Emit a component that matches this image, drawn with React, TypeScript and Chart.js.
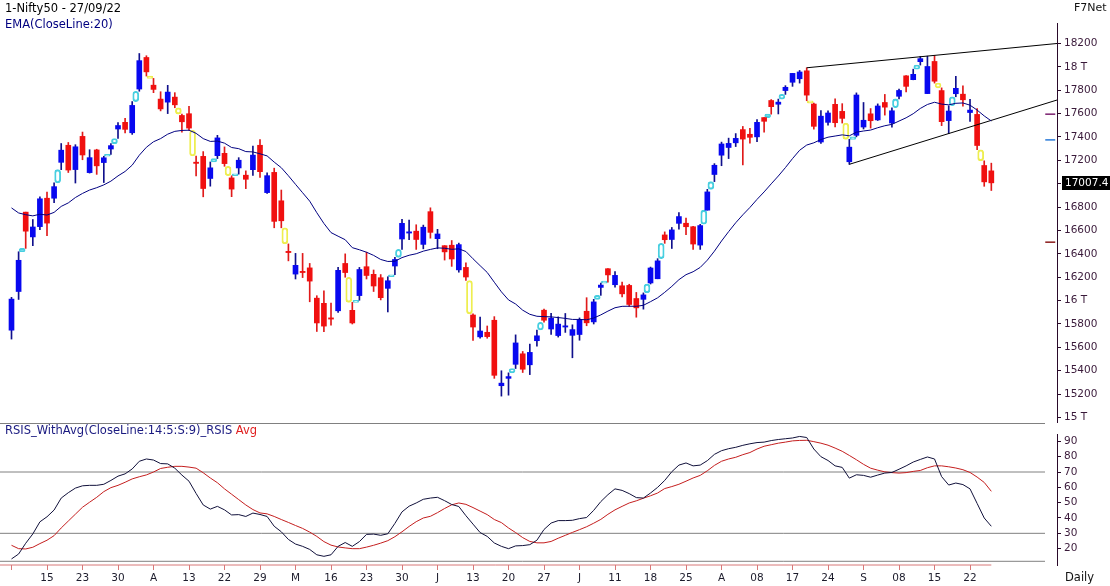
import React, { useEffect, useRef } from "react";
import { Chart, registerables } from "chart.js";

Chart.register(...registerables);

// ---------- DATA (Nifty50 daily, 08 Mar 2022 .. 27 Sep 2022) ----------
const opens = [
  15747, 16078, 16757, 16545, 16633, 16876, 16876, 17183, 17329, 17121,
  17405, 17095, 17289, 17181, 17297, 17468, 17525, 17436, 17810, 18080,
  17843, 17724, 17698, 17741, 17584, 17599, 17183, 17234, 17045, 17240,
  17260, 17050, 17135, 17073, 17120, 17329, 16924, 17097, 16854, 16415,
  16227, 16248, 16280, 16021, 15977, 15846, 15913, 16318, 15917, 16043,
  16290, 16225, 16196, 16105, 16296, 16527, 16578, 16594, 16481, 16761,
  16530, 16470, 16474, 16263, 16284, 15877, 15690, 15729, 15832, 15272,
  15335, 15455, 15545, 15451, 15657, 15918, 15757, 15701, 15774, 15703,
  15710, 15909, 15818, 16113, 16273, 16136, 16127, 16130, 16018, 16011,
  16151, 16187, 16562, 16523, 16661, 16662, 16632, 16475, 16774, 17079,
  17244, 17310, 17350, 17463, 17423, 17401, 17566, 17712, 17680, 17797,
  17868, 17898, 17966, 17682, 17357, 17525, 17679, 17619, 17188, 17414,
  17485, 17598, 17546, 17695, 17519, 17748, 17923, 17890, 18044, 17771,
  18046, 17797, 17540, 17770, 17766, 17609, 17593, 17156, 17110,
];
const highs = [
  16028, 16418, 16757, 16694, 16887, 16928, 17007, 17344, 17353, 17334,
  17442, 17291, 17295, 17235, 17343, 17523, 17559, 17703, 18114, 18095,
  17901, 17787, 17842, 17779, 17596, 17663, 17237, 17275, 17186, 17414,
  17315, 17068, 17223, 17110, 17322, 17377, 17093, 17133, 16946, 16485,
  16404, 16404, 16318, 16042, 16084, 15978, 16284, 16400, 15985, 16284,
  16414, 16262, 16223, 16204, 16370, 16695, 16690, 16649, 16646, 16794,
  16610, 16470, 16514, 16492, 16324, 15886, 15859, 15783, 15863, 15400,
  15382, 15707, 15565, 15628, 15749, 15927, 15892, 15861, 15890, 15793,
  15852, 16025, 16011, 16150, 16275, 16248, 16158, 16140, 16070, 16066,
  16287, 16359, 16588, 16626, 16753, 16706, 16636, 16653, 16952, 17172,
  17356, 17390, 17429, 17490, 17474, 17548, 17566, 17720, 17724, 17839,
  17944, 17969, 17992, 17690, 17625, 17623, 17726, 17685, 17380, 17777,
  17695, 17643, 17683, 17764, 17650, 17810, 17925, 17980, 18088, 18091,
  18096, 17820, 17667, 17919, 17838, 17722, 17643, 17196, 17176,
];
const lows = [
  15671, 16010, 16447, 16470, 16606, 16555, 16837, 17120, 17096, 17006,
  17205, 17091, 17080, 17010, 17250, 17387, 17435, 17422, 17791, 17921,
  17779, 17623, 17600, 17650, 17442, 17457, 17067, 16888, 16979, 17215,
  17149, 16889, 17082, 16958, 17071, 17055, 16917, 16623, 16623, 16340,
  16185, 16197, 15990, 15736, 15735, 15789, 15900, 16200, 15800, 16003,
  16185, 16078, 16006, 15903, 16221, 16439, 16521, 16438, 16443, 16534,
  16444, 16347, 16293, 16243, 16172, 15659, 15679, 15678, 15335, 15183,
  15191, 15419, 15385, 15367, 15610, 15815, 15710, 15688, 15728, 15511,
  15661, 15785, 15800, 16045, 16157, 16115, 16032, 15950, 15858, 15927,
  16142, 16187, 16490, 16446, 16611, 16564, 16438, 16438, 16774, 17018,
  17154, 17215, 17318, 17161, 17348, 17359, 17442, 17595, 17597, 17764,
  17833, 17861, 17710, 17467, 17345, 17500, 17487, 17519, 17166, 17401,
  17468, 17476, 17541, 17587, 17484, 17726, 17786, 17889, 18015, 17771,
  17861, 17497, 17429, 17744, 17663, 17532, 17291, 16978, 16942,
];
const closes = [
  16013, 16345, 16594, 16630, 16871, 16663, 16975, 17287, 17117, 17316,
  17246, 17223, 17153, 17222, 17326, 17498, 17465, 17670, 18053, 17957,
  17807, 17640, 17784, 17675, 17530, 17476, 17174, 16959, 17136, 17392,
  17172, 16954, 17201, 17038, 17245, 17103, 17069, 16678, 16683, 16411,
  16302, 16240, 16167, 15809, 15782, 15842, 16259, 16240, 15809, 16266,
  16215, 16125, 16025, 16170, 16352, 16661, 16585, 16523, 16628, 16584,
  16570, 16417, 16356, 16479, 16202, 15774, 15740, 15692, 15361, 15294,
  15350, 15638, 15413, 15557, 15699, 15832, 15850, 15799, 15780, 15752,
  15835, 15810, 15989, 16133, 16220, 16216, 16058, 15967, 15938, 16049,
  16279, 16340, 16521, 16605, 16719, 16632, 16484, 16642, 16930, 17158,
  17340, 17345, 17388, 17382, 17397, 17525, 17534, 17659, 17698, 17825,
  17944, 17956, 17758, 17491, 17578, 17605, 17522, 17559, 17313, 17759,
  17543, 17539, 17665, 17655, 17624, 17798, 17833, 17936, 18070, 18003,
  17877, 17531, 17622, 17816, 17718, 17630, 17327, 17016, 17007.4,
];
const ema20 = [
  16793, 16750, 16735, 16725, 16739, 16732, 16755, 16806, 16836, 16882,
  16917, 16946, 16966, 16990, 17022, 17067, 17105, 17159, 17244, 17312,
  17359, 17386, 17424, 17448, 17456, 17458, 17431, 17386, 17362, 17365,
  17347, 17310, 17300, 17275, 17272, 17256, 17238, 17185, 17137, 17068,
  16995, 16923, 16851, 16752, 16660, 16582, 16551, 16521, 16453, 16435,
  16414, 16387, 16352, 16335, 16337, 16368, 16388, 16401, 16423, 16438,
  16451, 16448, 16439, 16443, 16420, 16358, 16299, 16241, 16157, 16075,
  16006, 15971, 15918, 15883, 15866, 15863, 15861, 15855, 15848, 15839,
  15839, 15836, 15851, 15878, 15910, 15939, 15951, 15952, 15951, 15960,
  15991, 16024, 16071, 16122, 16179, 16222, 16247, 16284, 16346, 16423,
  16510, 16590, 16666, 16734, 16797, 16866, 16930, 16999, 17066, 17138,
  17215, 17286, 17331, 17350, 17378, 17398, 17408, 17418, 17410, 17441,
  17451, 17459, 17479, 17496, 17508, 17536, 17564, 17599, 17644, 17678,
  17697, 17681, 17675, 17688, 17691, 17672, 17630, 17580, 17537,
];
const rsis = [
  13.3, 16.5, 23.5, 29.6, 37.5, 40.8, 45.2, 53, 56.5, 59.5,
  61, 61.3, 61.3, 62, 64.5, 67.3, 68.8, 72, 77, 78.5,
  77.8, 75.5, 75.3, 72.5, 68, 64, 56, 48.5, 45.8, 47.6,
  45.3, 42, 42.2, 41, 43.2, 42.3, 41, 34.6, 31, 26,
  23, 21.5, 19.5, 16, 15, 16, 21.5, 24, 21.5, 24.6,
  29.3, 29.5, 28.7, 29.7, 36.5, 44, 47.7, 49.8, 52.2, 53,
  53.5, 51.3, 48.8, 47.5, 41.5, 36, 30.5, 28, 23.7, 21.5,
  20, 21.8, 22, 22.6, 25.5, 32.5, 36.7, 38.3, 38.3, 38.5,
  39.6, 40.3, 45, 50.7, 55.2, 59, 58, 55.9, 53.3, 53,
  56.3, 60, 64.5, 70.2, 74.5, 75.9, 74, 74.5, 77.4, 81.5,
  83.9, 85.2, 86.1, 87.4, 88.4, 89.2, 89.5, 90.5, 91.2, 91.7,
  92.2, 93.2, 92.5, 85, 80, 77.5, 74, 73, 66, 68.2,
  67.8, 66.6, 68, 69.3, 69.7, 71.8, 74, 76.5, 78.2, 79.8,
  78.5, 67, 61.5, 62.8, 61.8, 59, 49.5, 40, 34.6,
];
const rsisAvg = [
  22.2, 20, 19.8, 20.9, 23.3, 25.5, 28.5, 33.5, 38, 42.5,
  47, 50.3, 53.5, 57.2, 59.8, 61.3, 63.3, 65.5, 66.9, 68.1,
  70, 72.3, 73.1, 73.7, 73.7, 73.2, 72.5, 69.5, 66.1, 63,
  59, 55.5, 52, 48.5, 45.5, 43.3, 42.7, 41, 39, 37.1,
  35.1, 33.2, 30.8, 28, 24.6, 22.3, 21.1, 20.5, 20, 20,
  21, 22.2, 23.6, 25.2, 27.8, 31, 34.5, 37.6, 40, 41.1,
  43.5, 46.2, 48.6, 49.8, 48.9, 46.8, 44.5, 42.2, 39, 37,
  33.5, 30.5, 27.2, 24.7, 23.8, 23.8, 24.7, 26.8, 28.7, 30.6,
  32.4, 34.3, 36.6, 39.1, 42.4, 45.3, 47.6, 49.8, 51.2, 52.9,
  54.5, 56.3, 59.2, 60.5, 62, 64, 66.1, 67.8, 70.8, 74.3,
  77, 78.5, 79.6, 81.3, 82.7, 85, 86.8, 87.8, 88.8, 89.5,
  90.3, 90.6, 90.7, 89.8, 88.8, 87.5, 85.6, 83.5, 80.8, 78,
  75, 72.5, 71.2, 70.1, 69.6, 69.3, 69.6, 70.4, 71, 72.8,
  74, 74, 73.4, 72.6, 71.5, 69.7, 66.7, 63.2, 57.4,
];
// x tick labels every 5 sessions starting at session 0
const xTickLabels = [
  "", "15", "23", "30", "A", "13", "22", "29", "M", "16", "23", "30", "J", "13",
  "20", "27", "J", "11", "18", "25", "A", "08", "17", "24", "S", "08", "15", "22",
];
const priceTicks = [
  15000, 15200, 15400, 15600, 15800, 16000, 16200, 16400, 16600, 16800,
  17000, 17200, 17400, 17600, 17800, 18000, 18200,
];
const rsiTicks = [20, 30, 40, 50, 60, 70, 80, 90];
const rsiLevels = [70, 30, 11.75];
const upperTrend = [
  { x: 112, y: 17992 },
  { x: 147.3, y: 18200 },
];
const lowerTrend = [
  { x: 118, y: 17166 },
  { x: 147.3, y: 17717 },
];
const sideMarkers = [17595, 17375, 16500];
const sideMarkerColors = ["#7a1f6e", "#2a7ad8", "#8a1a1a"];

// ---------- STYLE ----------
const FONT = '"DejaVu Sans", Verdana, sans-serif';
const X_MIN = -1.62;
const X_MAX = 147.25;
const PRICE_MIN = 14953;
const PRICE_MAX = 18375;
const RSI_MIN = 9.34;
const RSI_MAX = 94.79;
const LEVEL_END_X = 145.56;
const MARKER_X = 146.3;
const UP_BODY = "#0808f0";
const UP_WICK = "#10108c";
const DN_BODY = "#f01010";
const DN_WICK = "#e01a1a";
const AXIS_LINE = "#2a0a2a";
const AXIS_TEXT = "#3a1a3a";
const AXIS_RED = "#d87878";

const lastPricePlugin = {
  id: "lastPrice",
  afterDraw(chart: any) {
    const { ctx, chartArea, scales } = chart;
    const v = closes[closes.length - 1];
    const y = scales.y.getPixelForValue(v);
    ctx.save();
    ctx.fillStyle = "#000";
    ctx.fillRect(chartArea.right + 5, Math.round(y) - 7, 60, 14);
    ctx.fillStyle = "#fff";
    ctx.font = `10.5px ${FONT}`;
    ctx.textBaseline = "middle";
    ctx.textAlign = "left";
    ctx.fillText(v.toFixed(1), chartArea.right + 8, Math.round(y) + 0.5);
    ctx.restore();
  },
};

const fitRightAxis = (s: any) => {
  s.width = 53;
  s.paddingTop = 0;
  s.paddingBottom = 0;
};

export default function App() {
  const priceRef = useRef<HTMLCanvasElement>(null);
  const rsiRef = useRef<HTMLCanvasElement>(null);

  useEffect(() => {
    document.body.style.margin = "0";
    Chart.defaults.font.family = FONT;
    const n = closes.length;
    const idx = closes.map((_, i) => i);
    const up = closes.map((c, i) => c >= opens[i]);
    const bodyData = idx.map((i) => ({ x: i, y: [opens[i], closes[i]] }));
    const wickData = idx.map((i) => ({ x: i, y: [lows[i], highs[i]] }));
    const gapUp: any[] = [];
    const gapDown: any[] = [];
    for (let i = 1; i < n; i++) {
      if (lows[i] > highs[i - 1]) gapUp.push({ x: i - 0.5, y: [highs[i - 1], lows[i]] });
      else if (highs[i] < lows[i - 1]) gapDown.push({ x: i - 0.5, y: [highs[i], lows[i - 1]] });
    }

    const price = new Chart(priceRef.current!, {
      type: "bar",
      data: {
        datasets: [
          {
            type: "line",
            data: ema20.map((y, i) => ({ x: i, y })),
            borderColor: "#000080",
            borderWidth: 1,
            pointRadius: 0,
            tension: 0,
            order: 0,
          } as any,
          {
            type: "line",
            data: upperTrend,
            borderColor: "#000",
            borderWidth: 1,
            pointRadius: 0,
            order: 0,
          } as any,
          {
            type: "line",
            data: lowerTrend,
            borderColor: "#000",
            borderWidth: 1,
            pointRadius: 0,
            order: 0,
          } as any,
          {
            type: "scatter",
            data: sideMarkers.map((y) => ({ x: MARKER_X, y })),
            pointStyle: "line",
            pointRadius: 5,
            borderWidth: 1.5,
            borderColor: sideMarkerColors,
            order: 0,
          } as any,
          {
            data: bodyData,
            backgroundColor: up.map((u) => (u ? UP_BODY : DN_BODY)),
            barThickness: 5,
            grouped: false,
            minBarLength: 1.2,
            borderSkipped: false,
            order: 1,
          } as any,
          {
            data: wickData,
            backgroundColor: up.map((u) => (u ? UP_WICK : DN_WICK)),
            barThickness: 1,
            grouped: false,
            order: 2,
          } as any,
          {
            data: gapUp,
            backgroundColor: "rgba(0,0,0,0)",
            borderColor: "#48cfe0",
            borderWidth: 1.2,
            borderRadius: 20,
            borderSkipped: false,
            barThickness: 6,
            minBarLength: 2,
            grouped: false,
            order: 3,
          } as any,
          {
            data: gapDown,
            backgroundColor: "rgba(0,0,0,0)",
            borderColor: "#eeee50",
            borderWidth: 1.2,
            borderRadius: 20,
            borderSkipped: false,
            barThickness: 6,
            minBarLength: 2,
            grouped: false,
            order: 3,
          } as any,
        ],
      },
      options: {
        responsive: false,
        animation: false,
        layout: { autoPadding: false, padding: { top: 23, left: 0, right: 0, bottom: 0 } },
        plugins: { legend: { display: false }, tooltip: { enabled: false } },
        scales: {
          x: {
            type: "linear",
            min: X_MIN,
            max: X_MAX,
            offset: false,
            display: false,
            grid: { offset: false },
          },
          y: {
            position: "right",
            min: PRICE_MIN,
            max: PRICE_MAX,
            afterBuildTicks: (s: any) => {
              s.ticks = priceTicks.map((v) => ({ value: v }));
            },
            afterFit: fitRightAxis,
            ticks: {
              callback: (v: any) => (v % 1000 === 0 ? `${v / 1000} T` : `${v}`),
              color: AXIS_TEXT,
              font: { size: 10.5, lineHeight: 1 },
              padding: 3,
            },
            grid: { drawOnChartArea: false, drawTicks: true, tickLength: 4, color: AXIS_LINE },
            border: { display: true, color: AXIS_LINE, width: 1 },
          },
        },
      } as any,
      plugins: [lastPricePlugin],
    });

    const levelSets = rsiLevels.map((lv) => ({
      type: "line",
      data: [
        { x: X_MIN, y: lv },
        { x: LEVEL_END_X, y: lv },
      ],
      borderColor: "#808080",
      borderWidth: 1,
      pointRadius: 0,
      clip: false,
    }));

    const rsi = new Chart(rsiRef.current!, {
      type: "line",
      data: {
        datasets: [
          {
            data: rsis.map((y, i) => ({ x: i, y })),
            borderColor: "#10103a",
            borderWidth: 1,
            pointRadius: 0,
            tension: 0,
          },
          {
            data: rsisAvg.map((y, i) => ({ x: i, y })),
            borderColor: "#c41e1e",
            borderWidth: 1,
            pointRadius: 0,
            tension: 0,
          },
          ...levelSets,
          {
            data: [
              { x: X_MIN, y: RSI_MIN },
              { x: n - 1, y: RSI_MIN },
            ],
            borderColor: AXIS_RED,
            borderWidth: 1,
            pointRadius: 0,
            clip: false,
          },
        ] as any,
      },
      options: {
        responsive: false,
        animation: false,
        layout: { autoPadding: false, padding: { top: 11, left: 0, right: 0, bottom: 0 } },
        plugins: { legend: { display: false }, tooltip: { enabled: false } },
        scales: {
          x: {
            type: "linear",
            min: X_MIN,
            max: X_MAX,
            afterBuildTicks: (s: any) => {
              s.ticks = xTickLabels.map((_, k) => ({ value: k * 5 }));
            },
            afterFit: (s: any) => {
              s.height = 21;
            },
            ticks: {
              autoSkip: false,
              maxRotation: 0,
              callback: (v: any) => xTickLabels[Math.round(v / 5)] ?? "",
              color: "#1c1c2c",
              font: { size: 10.5 },
              padding: 2,
            },
            grid: { drawOnChartArea: false, drawTicks: true, tickLength: 5, color: AXIS_RED },
            border: { display: false },
          },
          y: {
            position: "right",
            min: RSI_MIN,
            max: RSI_MAX,
            afterBuildTicks: (s: any) => {
              s.ticks = rsiTicks.map((v) => ({ value: v }));
            },
            afterFit: fitRightAxis,
            ticks: { color: AXIS_TEXT, font: { size: 10.5, lineHeight: 1 }, padding: 3 },
            grid: { drawOnChartArea: false, drawTicks: true, tickLength: 4, color: AXIS_LINE },
            border: { display: true, color: AXIS_LINE, width: 1 },
          },
        },
      } as any,
    });

    return () => {
      price.destroy();
      rsi.destroy();
    };
  }, []);

  const txt: React.CSSProperties = {
    position: "absolute",
    fontFamily: FONT,
    fontSize: "11.5px",
    lineHeight: "14px",
    whiteSpace: "nowrap",
  };

  return (
    <div style={{ position: "relative", width: 1110, height: 586, background: "#fff", overflow: "hidden" }}>
      <canvas
        ref={priceRef}
        width={1110}
        height={423}
        style={{ position: "absolute", left: 0, top: 0, width: 1110, height: 423 }}
      />
      <canvas
        ref={rsiRef}
        width={1110}
        height={163}
        style={{ position: "absolute", left: 0, top: 423, width: 1110, height: 163 }}
      />
      <div style={{ position: "absolute", left: 0, top: 423, width: 1045, height: 0, borderTop: "1px solid #808080" }} />
      <div style={{ ...txt, left: 5, top: 1, color: "#000" }}>1-Nifty50 - 27/09/22</div>
      <div style={{ ...txt, left: 5, top: 17, color: "#000080" }}>EMA(CloseLine:20)</div>
      <div style={{ ...txt, left: 1074, top: 1, color: "#111", fontSize: "11px" }}>F7Net</div>
      <div style={{ ...txt, left: 5, top: 423, color: "#1a1a80" }}>
        RSIS_WithAvg(CloseLine:14:5:S:9)_RSIS <span style={{ color: "#e02020" }}>Avg</span>
      </div>
      <div style={{ ...txt, left: 1065, top: 570, color: "#111" }}>Daily</div>
    </div>
  );
}
